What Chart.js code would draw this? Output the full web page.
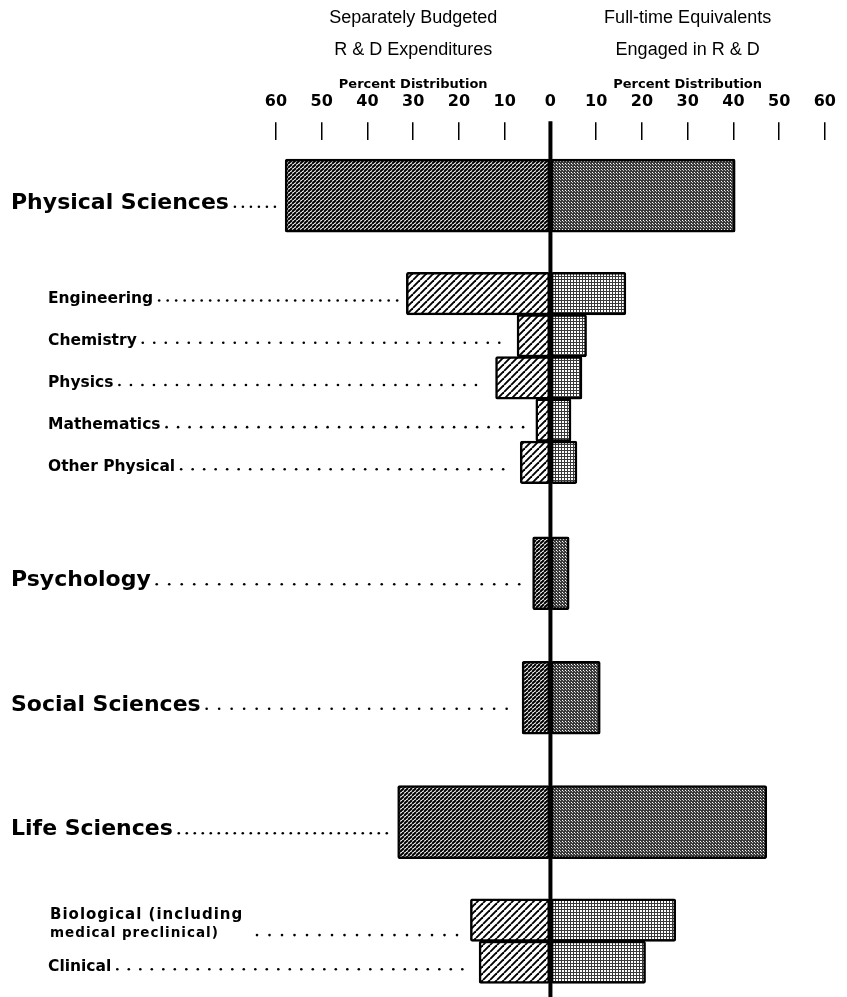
<!DOCTYPE html>
<html>
<head>
<meta charset="utf-8">
<script src="https://cdn.jsdelivr.net/npm/chart.js@4/dist/chart.umd.min.js"></script>
<style>
  html, body { margin: 0; padding: 0; background: #fff; }
  #wrap { width: 847px; height: 997px; position: relative; }
</style>
</head>
<body>
<div id="wrap"><canvas id="c"></canvas></div>
<script>
// ---- data ----
const categories = ['Physical Sciences', 'Engineering', 'Chemistry', 'Physics', 'Mathematics',
  'Other Physical', 'Psychology', 'Social Sciences', 'Life Sciences',
  'Biological (including medical preclinical)', 'Clinical'];
const levels = [0, 1, 1, 1, 1, 1, 0, 0, 0, 1, 1]; // 0 = field, 1 = sub-field
const rdExpenditures = [58, 31.5, 7.3, 12, 3.2, 6.6, 3.9, 6.2, 33.4, 17.5, 15.6];
const fteEngaged = [40.4, 16.5, 7.9, 6.9, 4.5, 5.8, 4.1, 10.9, 47.3, 27.4, 20.8];
const tickValues = [-60, -50, -40, -30, -20, -10, 0, 10, 20, 30, 40, 50, 60];
const leftHeader = ['Separately Budgeted', 'R & D Expenditures', 'Percent Distribution'];
const rightHeader = ['Full-time Equivalents', 'Engaged in R & D', 'Percent Distribution'];

// ---- layout (row spacing in row units) ----
const STEP = { '0-1': 2.32, '1-1': 1.0, '1-0': 2.63, '0-0': 2.95 };
const rowPos = [];
levels.forEach((lv, i) => {
  rowPos.push(i === 0 ? 0 : rowPos[i - 1] + STEP[levels[i - 1] + '-' + lv]);
});

// ---- patterns ----
function hatch(size, lw, color) {
  const c = document.createElement('canvas');
  c.width = size; c.height = size;
  const g = c.getContext('2d');
  g.fillStyle = '#fff'; g.fillRect(0, 0, size, size);
  g.strokeStyle = color; g.lineWidth = lw;
  for (let k = -1; k <= 1; k++) {
    g.beginPath(); g.moveTo(k * size, size); g.lineTo(k * size + size, 0); g.stroke();
  }
  return g.createPattern(c, 'repeat');
}
function grid(size, color) {
  const c = document.createElement('canvas');
  c.width = size; c.height = size;
  const g = c.getContext('2d');
  g.fillStyle = '#fff'; g.fillRect(0, 0, size, size);
  g.fillStyle = color;
  g.fillRect(0, 0, size, 1); g.fillRect(0, 0, 1, size);
  return g.createPattern(c, 'repeat');
}
function stipple() {
  const c = document.createElement('canvas');
  c.width = 3; c.height = 3;
  const g = c.getContext('2d');
  g.fillStyle = '#3a3a3a'; g.fillRect(0, 0, 3, 3);
  g.fillStyle = '#fff';
  g.fillRect(1, 1, 1, 1);
  g.fillStyle = '#bbb';
  g.fillRect(2, 2, 1, 1);
  return g.createPattern(c, 'repeat');
}
const majorLeftFill = hatch(4, 2.0, '#000');
const minorLeftFill = hatch(7, 1.9, '#000');
const majorRightFill = stipple();
const minorRightFill = grid(3, '#3a3a3a');

function pts(level, sign, values) {
  const out = [];
  categories.forEach((_, i) => {
    if (levels[i] === level) out.push({ x: sign * values[i], y: rowPos[i] });
  });
  return out;
}

const barCommon = { borderColor: '#000', borderWidth: 2.5, borderSkipped: false, borderRadius: 2, grouped: false };

const ROW_PX = 42.2;
const FONT = '"DejaVu Sans", sans-serif';
const HFONT = '"Liberation Sans", Arial, sans-serif';

const labelPlugin = {
  id: 'labels',
  afterDatasetsDraw(chart) {
    const ctx = chart.ctx;
    const xs = chart.scales.x, ys = chart.scales.y;
    const zx = xs.getPixelForValue(0);
    ctx.save();
    // zero line
    ctx.strokeStyle = '#000'; ctx.lineWidth = 4;
    ctx.beginPath(); ctx.moveTo(zx, xs.bottom - 19); ctx.lineTo(zx, chart.height); ctx.stroke();

    // headers
    ctx.fillStyle = '#000';
    ctx.textAlign = 'center'; ctx.textBaseline = 'middle';
    [[leftHeader, -30], [rightHeader, 30]].forEach(([lines, v]) => {
      const cx = xs.getPixelForValue(v);
      ctx.font = '18px ' + HFONT;
      ctx.fillText(lines[0], cx, 18);
      ctx.fillText(lines[1], cx, 50);
      ctx.font = 'bold 13px ' + FONT;
      ctx.fillText(lines[2], cx, 85);
    });

    // category labels with dotted leaders
    ctx.textAlign = 'left'; ctx.textBaseline = 'alphabetic';
    categories.forEach((name, i) => {
      const cy = ys.getPixelForValue(rowPos[i]);
      const barLeft = xs.getPixelForValue(-rdExpenditures[i]);
      let textEnd, dotY, x0, spacing;
      if (levels[i] === 0) {
        ctx.font = 'bold 22px ' + FONT;
        x0 = 11;
        ctx.fillText(name, x0, cy + 13);
        textEnd = x0 + ctx.measureText(name).width + 6;
        dotY = cy + 11;
        spacing = (i === 0 || i === 8) ? 8 : 12.5;
      } else if (name.indexOf('(') > 0) {
        x0 = 50;
        const p = name.indexOf('(');
        const cut = name.indexOf(' ', p + 1);
        const l1 = name.slice(0, cut);
        const l2 = name.slice(cut + 1);
        ctx.letterSpacing = '1px';
        ctx.font = 'bold 15px ' + FONT;
        ctx.fillText(l1, x0, cy - 1);
        ctx.font = 'bold 13.5px ' + FONT;
        ctx.fillText(l2, x0, cy + 17);
        ctx.letterSpacing = '0px';
        textEnd = 257;
        dotY = cy + 15;
        spacing = 12.5;
      } else {
        ctx.font = 'bold 15.5px ' + FONT;
        x0 = 48;
        ctx.fillText(name, x0, cy + 9);
        textEnd = x0 + ctx.measureText(name).width + 6;
        dotY = cy + 7;
        spacing = (i === 1) ? 8.5 : 11.5;
      }
      const end = barLeft - 9;
      for (let x = textEnd; x <= end; x += spacing) {
        ctx.beginPath(); ctx.arc(x, dotY, 1.3, 0, Math.PI * 2); ctx.fill();
      }
    });
    ctx.restore();
  }
};

new Chart(document.getElementById('c'), {
  type: 'bar',
  data: {
    datasets: [
      Object.assign({ data: pts(0, -1, rdExpenditures), backgroundColor: majorLeftFill, barThickness: 73 }, barCommon),
      Object.assign({ data: pts(0, 1, fteEngaged), backgroundColor: majorRightFill, barThickness: 73 }, barCommon),
      Object.assign({ data: pts(1, -1, rdExpenditures), backgroundColor: minorLeftFill, barThickness: 42.5 }, barCommon),
      Object.assign({ data: pts(1, 1, fteEngaged), backgroundColor: minorRightFill, barThickness: 42.5 }, barCommon)
    ]
  },
  options: {
    indexAxis: 'y',
    responsive: true,
    maintainAspectRatio: false,
    animation: false,
    layout: { padding: { left: 276, right: 11, top: 81, bottom: 0 } },
    plugins: { legend: { display: false }, tooltip: { enabled: false }, title: { display: false } },
    scales: {
      x: {
        type: 'linear',
        position: 'top',
        min: -60, max: 60,
        offset: false,
        afterBuildTicks(axis) { axis.ticks = tickValues.map(v => ({ value: v })); },
        ticks: {
          callback: v => String(Math.abs(v)),
          color: '#000',
          font: { family: FONT, weight: 'bold', size: 16 },
          padding: 11,
          maxRotation: 0,
          autoSkip: false
        },
        grid: {
          drawOnChartArea: false, drawTicks: true, tickLength: 18,
          color: '#000', lineWidth: 1.5, offset: false
        },
        border: { display: false }
      },
      y: {
        type: 'linear',
        display: false,
        reverse: true,
        offset: false,
        grid: { offset: false },
        min: -1.315,
        max: -1.315 + 857 / ROW_PX
      }
    }
  },
  plugins: [labelPlugin]
});
</script>
</body>
</html>
